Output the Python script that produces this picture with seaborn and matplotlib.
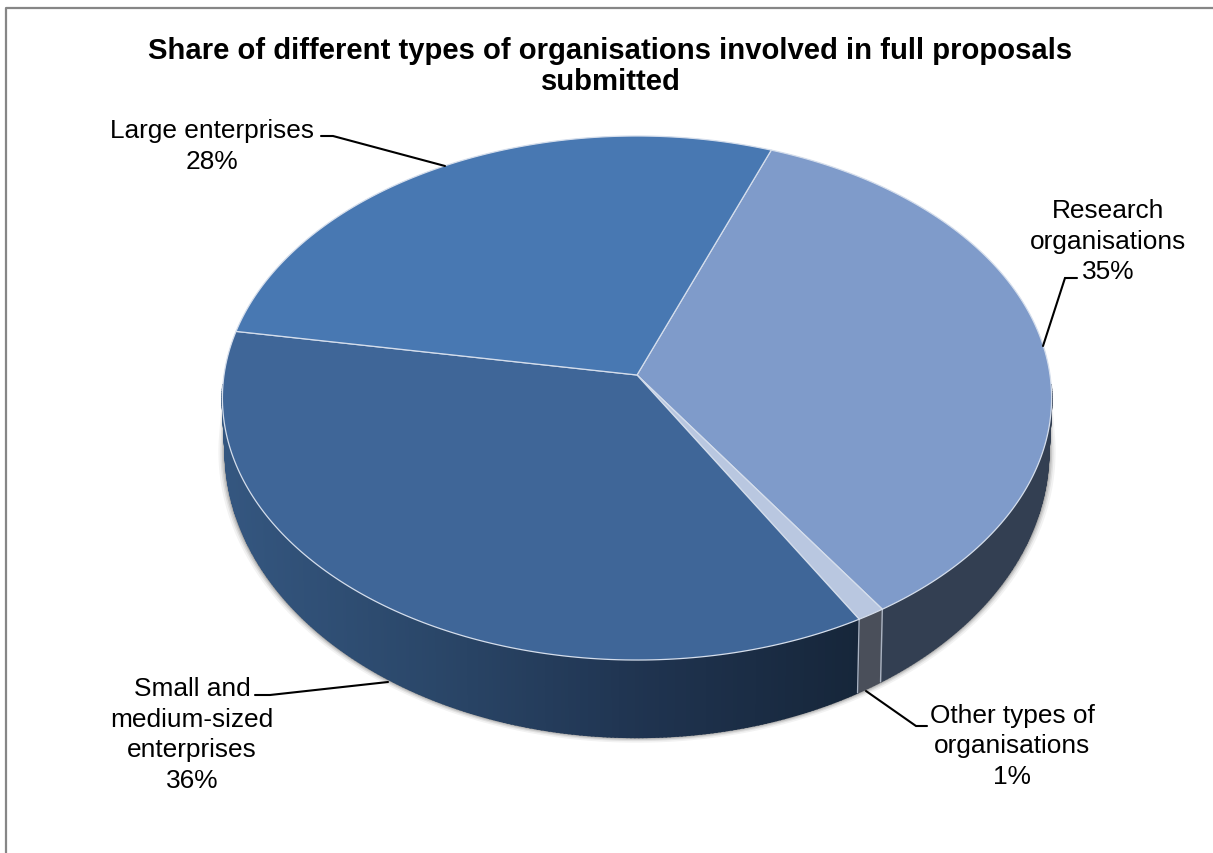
'''
Share of organisation types, drawn as a tilted 3D pie
'''
import numpy as np
import seaborn as sns
from matplotlib import pyplot as plt
from matplotlib.patches import Polygon

sns.set_theme(style="white")
plt.rcParams['font.family'] = ['Liberation Sans', 'DejaVu Sans']

title = "Share of different types of organisations involved in full proposals\nsubmitted"
categories = ["Research\norganisations", "Other types of\norganisations",
              "Small and\nmedium-sized\nenterprises", "Large enterprises"]
shares = [35, 1, 36, 28]

top_colors = sns.color_palette(["#7f9bca", "#b9c7e0", "#3f6698", "#4878b2"])
wall_colors = sns.color_palette(["#333f52", "#4a4f5a", "#16263a", "#16263a"])

start_angle = 20.6
cx = 637
tilt = 0.0878


# circle angle (clockwise from the far side) to picture position
def project(angle, apex_y, a, b):
    t = np.radians(angle)
    depth = 1 + tilt * np.cos(t)
    return cx + a * np.sin(t) / depth, apex_y - b * np.cos(t) / depth


def top_rim(angle):
    return project(angle, 376, 413, 260)


def low_rim(angle):
    return project(angle, 427, 410, 284)


fig = plt.figure(figsize=(12.13, 8.54), dpi=100)
ax = fig.add_axes([0, 0, 1, 1])
ax.set_xlim(0, 1213)
ax.set_ylim(854, 0)
ax.axis("off")

# chart frame, the right and bottom sides fall outside the crop
ax.plot([5.5, 5.5, 1300], [900, 8.5, 8.5], color="#868686", lw=1.6)

edges = start_angle + 3.6 * np.concatenate([[0], np.cumsum(shares)])

# soft shadow under the wall
arc = np.linspace(93, 267, 200)
for grow, alpha in zip([7, 5, 3.5, 2, 1], [0.05, 0.07, 0.1, 0.14, 0.2]):
    sx, sy = project(arc, 427, 410 + grow, 284 + grow * 0.7)
    tx, ty = top_rim(arc[::-1])
    ax.add_patch(Polygon(np.c_[np.r_[sx, tx], np.r_[sy, ty]], color="black", alpha=alpha, lw=0, zorder=1))

# side wall, one thin strip at a time
sme_ramp = sns.blend_palette(["#34567f", "#2a4668", "#1f334f", "#16263a"], 256)
for i in range(len(shares)):
    lo, hi = max(edges[i], 92), min(edges[i + 1], 268)
    if hi <= lo:
        continue
    steps = np.linspace(lo, hi, max(2, int((hi - lo) * 2) + 1))
    for a0, a1 in zip(steps[:-1], steps[1:]):
        x0, y0 = top_rim(a0)
        x1, y1 = top_rim(a1)
        x2, y2 = low_rim(a1)
        x3, y3 = low_rim(a0)
        color = wall_colors[i]
        if i == 2:
            color = sme_ramp[int(np.clip((x0 - 230) / 630, 0, 1) * 255)]
        ax.add_patch(Polygon([(x0, y0), (x1, y1), (x2, y2), (x3, y3)], facecolor=color,
                             edgecolor=color, lw=1.2, zorder=2))

# pale seams between wall pieces
for e in edges[:3]:
    if 92 < e < 268:
        x0, y0 = top_rim(e)
        x1, y1 = low_rim(e)
        ax.plot([x0, x1], [y0, y1], color="#aab3c2", lw=1, zorder=3)

# top face
for i in range(len(shares)):
    rim = np.linspace(edges[i], edges[i + 1], 150)
    x, y = top_rim(rim)
    ax.add_patch(Polygon(np.c_[np.r_[cx, x], np.r_[376, y]], facecolor=top_colors[i],
                         edgecolor="#d5deec", lw=0.9, joinstyle="round", zorder=4))

# leader lines
leaders = [
    ([1077, 1065, 1043], [279, 279, 347]),
    ([866, 916, 927], [692, 727, 727]),
    ([255, 270, 388], [696, 696, 683]),
    ([321, 333, 445], [137, 137, 167]),
]
for lx, ly in leaders:
    ax.plot(lx, ly, color="black", lw=1.5, zorder=5, solid_joinstyle="miter")

label_pos = [(1108, 241.5), (1012, 746.5), (192, 735), (212, 146.5)]
for name, share, (tx, ty) in zip(categories, shares, label_pos):
    ax.text(tx, ty, f"{name}\n{share}%", ha="center", va="center", fontsize=18.95,
            color="black", linespacing=1.34, zorder=6)

ax.text(610.5, 66.5, title, ha="center", va="center", fontsize=21.1, fontweight="bold",
        color="black", linespacing=1.17)

fig.savefig("out.png", dpi=100)
